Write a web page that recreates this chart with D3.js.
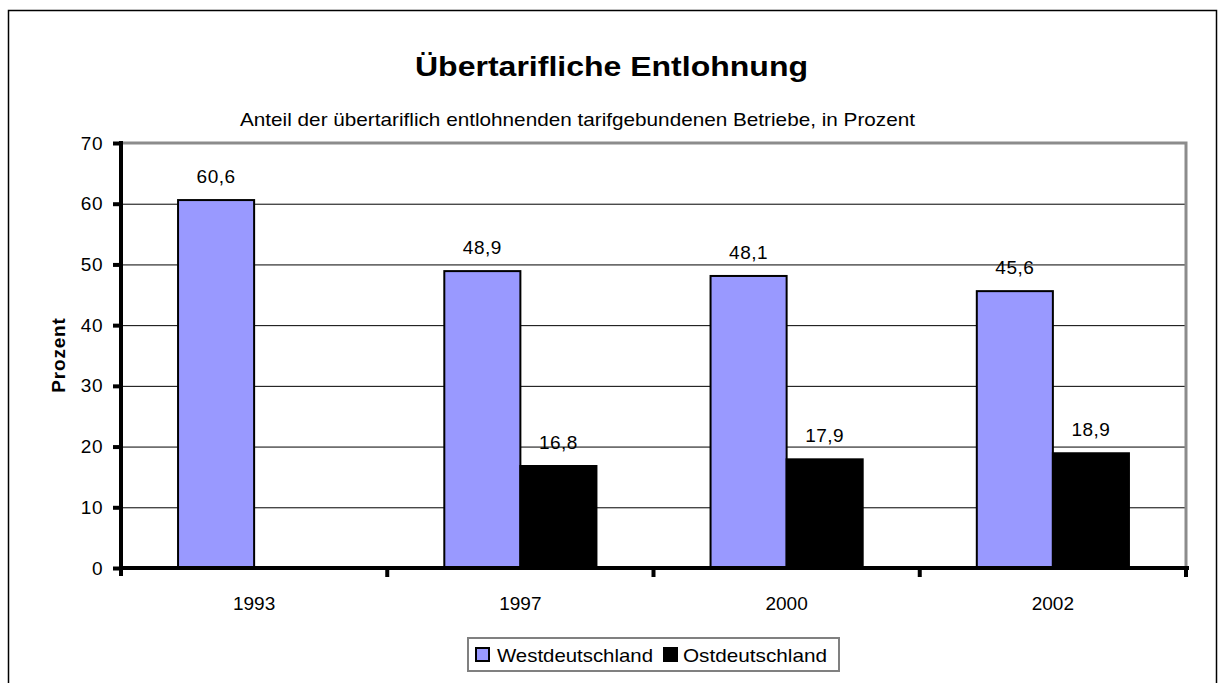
<!DOCTYPE html>
<html>
<head>
<meta charset="utf-8">
<script src="https://cdn.jsdelivr.net/npm/d3@7"></script>
<style>
  body { margin: 0; background: #fff; }
  svg { display: block; font-family: Arial, 'Liberation Sans', sans-serif; }
</style>
</head>
<body>
<div id="chart"></div>
<script>
(() => {
'use strict';

const years = ['1993', '1997', '2000', '2002'];
const seriesNames = ['Westdeutschland', 'Ostdeutschland'];
const west = [60.6, 48.9, 48.1, 45.6];
const east = [null, 16.8, 17.9, 18.9];
const yTicks = [0, 10, 20, 30, 40, 50, 60, 70];

const WIDTH = 1218;
const HEIGHT = 683;
const PLOT = { left: 121, right: 1186, top: 143, bottom: 568 };
const colors = ['#9999ff', '#000000'];
const FONT = '19px';

const SVG = d3.select('#chart')
  .append('svg')
  .attr('width', WIDTH)
  .attr('height', HEIGHT);

// outer frame
SVG.append('rect')
  .attr('x', 8.5).attr('y', 10.5)
  .attr('width', WIDTH - 10).attr('height', HEIGHT)
  .attr('fill', 'none')
  .attr('stroke', '#000')
  .attr('stroke-width', 1.5);

const xScale = d3.scaleBand()
  .domain(years)
  .range([PLOT.left, PLOT.right]);

const inner = d3.scaleBand()
  .domain(seriesNames)
  .range([0, xScale.bandwidth()])
  .paddingOuter(0.75)
  .paddingInner(0);

const yScale = d3.scaleLinear()
  .domain([0, 70])
  .range([PLOT.bottom, PLOT.top]);

// gridlines
SVG.append('g')
  .selectAll('line')
  .data(yTicks.filter(t => t > 0 && t < 70))
  .enter()
  .append('line')
    .attr('x1', PLOT.left).attr('x2', PLOT.right)
    .attr('y1', d => yScale(d) + 0.5).attr('y2', d => yScale(d) + 0.5)
    .attr('stroke', '#000')
    .attr('stroke-width', 1);

// gray top/right border
SVG.append('path')
  .attr('d', `M${PLOT.left},${PLOT.top} H${PLOT.right} V${PLOT.bottom}`)
  .attr('fill', 'none')
  .attr('stroke', '#8c8c8c')
  .attr('stroke-width', 3);

// bars
const rows = years.map((y, i) => ({ year: y, values: [west[i], east[i]] }));
const groups = SVG.append('g')
  .selectAll('g')
  .data(rows)
  .enter()
  .append('g')
    .attr('transform', d => `translate(${xScale(d.year)},0)`);

groups.selectAll('rect')
  .data(d => d.values.map((v, j) => ({ name: seriesNames[j], v, j })).filter(d => d.v != null))
  .enter()
  .append('rect')
    .attr('x', d => inner(d.name))
    .attr('y', d => yScale(d.v))
    .attr('width', inner.bandwidth())
    .attr('height', d => yScale(0) - yScale(d.v))
    .attr('fill', d => colors[d.j])
    .attr('stroke', '#000')
    .attr('stroke-width', 2);

groups.selectAll('text')
  .data(d => d.values.map((v, j) => ({ name: seriesNames[j], v })).filter(d => d.v != null))
  .enter()
  .append('text')
    .attr('x', d => inner(d.name) + inner.bandwidth() / 2)
    .attr('y', d => yScale(d.v) - 17)
    .attr('text-anchor', 'middle')
    .style('font-size', FONT)
    .style('letter-spacing', '0.5px')
    .text(d => d3.format('.1f')(d.v).replace('.', ','));

// axes
const yAxis = d3.axisLeft(yScale).tickValues(yTicks).tickSize(8).tickPadding(10);
const yG = SVG.append('g')
  .attr('transform', `translate(${PLOT.left},0)`)
  .call(yAxis);
yG.select('.domain').attr('stroke-width', 4).attr('d', `M0,${PLOT.top - 2}V${PLOT.bottom + 8}`);
yG.selectAll('.tick line').attr('stroke-width', 4);
yG.selectAll('.tick text').style('font-size', FONT).style('letter-spacing', '0.5px').attr('fill', '#000');

const xAxis = d3.axisBottom(xScale).tickSize(0).tickPadding(29);
const xG = SVG.append('g')
  .attr('transform', `translate(0,${PLOT.bottom})`)
  .call(xAxis);
xG.select('.domain').attr('stroke-width', 4).attr('d', `M${PLOT.left},0H${PLOT.right + 3}`);
xG.selectAll('.tick text').style('font-size', FONT).attr('fill', '#000');

// category separator ticks
SVG.append('g')
  .selectAll('line')
  .data(years.slice(1).concat(['end']))
  .enter()
  .append('line')
    .attr('x1', d => d === 'end' ? PLOT.right : xScale(d))
    .attr('x2', d => d === 'end' ? PLOT.right : xScale(d))
    .attr('y1', PLOT.bottom)
    .attr('y2', PLOT.bottom + 9)
    .attr('stroke', '#000')
    .attr('stroke-width', 4);

// titles
SVG.append('text')
  .attr('x', 415).attr('y', 76)
  .attr('textLength', 393)
  .attr('lengthAdjust', 'spacingAndGlyphs')
  .style('font-size', '27px')
  .style('font-weight', 'bold')
  .text('Übertarifliche Entlohnung');

SVG.append('text')
  .attr('x', 240).attr('y', 126)
  .attr('textLength', 675)
  .attr('lengthAdjust', 'spacingAndGlyphs')
  .style('font-size', FONT)
  .text('Anteil der übertariflich entlohnenden tarifgebundenen Betriebe, in Prozent');

SVG.append('text')
  .attr('transform', 'translate(65,355) rotate(-90)')
  .attr('text-anchor', 'middle')
  .style('font-size', FONT)
  .style('font-weight', 'bold')
  .style('letter-spacing', '0.8px')
  .text('Prozent');

// legend
const legendBox = SVG.append('g').attr('transform', 'translate(468,638)');
legendBox.append('rect')
  .attr('width', 371).attr('height', 33)
  .attr('fill', '#fff')
  .attr('stroke', '#808080')
  .attr('stroke-width', 2);

const legendX = [8, 196];
const legendTextLen = [156, 144];
const legend = legendBox.selectAll('.legend')
  .data(seriesNames)
  .enter()
  .append('g')
    .attr('class', 'legend')
    .attr('transform', (d, i) => `translate(${legendX[i]},10)`);

legend.append('rect')
  .attr('width', 13).attr('height', 13)
  .attr('fill', (d, i) => colors[i])
  .attr('stroke', '#000')
  .attr('stroke-width', 2);

legend.append('text')
  .attr('x', (d, i) => i === 0 ? 21 : 19).attr('y', 14)
  .attr('textLength', (d, i) => legendTextLen[i])
  .attr('lengthAdjust', 'spacingAndGlyphs')
  .style('font-size', FONT)
  .text(d => d);

})();
</script>
</body>
</html>
